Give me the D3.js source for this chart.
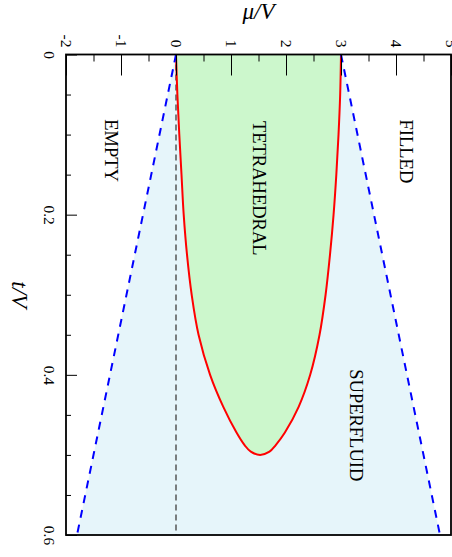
<!DOCTYPE html>
<html>
<head>
<meta charset="utf-8">
<script src="https://cdn.jsdelivr.net/npm/d3@7"></script>
<style>
  body { margin: 0; background: #fff; }
  svg { display: block; font-family: "Liberation Serif", "DejaVu Serif", serif; }
</style>
</head>
<body>
<div id="chart"></div>
<script>
'use strict'

// lobe boundary (tetrahedral phase)
var lobeT     = [0, 0.05, 0.1, 0.15, 0.2, 0.25, 0.3, 0.35, 0.4, 0.44, 0.472, 0.488, 0.496];
var lobeLower = [0, 0.025, 0.06, 0.1, 0.14, 0.2, 0.285, 0.41, 0.62, 0.86, 1.1, 1.25, 1.36];
var lobeUpper = [3, 2.985, 2.955, 2.915, 2.865, 2.8, 2.72, 2.61, 2.44, 2.23, 1.98, 1.81, 1.7];
var lobeTip = [0.5, 1.53];

// superfluid edges (dashed blue)
var edgeT = [0, 0.6];
var edgeLower = [0, -1.8];
var edgeUpper = [3, 4.8];

var muTicks = [-2, -1, 0, 1, 2, 3, 4, 5];
var muMinor = [-1.5, -0.5, 0.5, 1.5, 2.5, 3.5, 4.5];
var tTicks = [0, 0.2, 0.4, 0.6];
var tMinor = [0.05, 0.1, 0.15, 0.25, 0.3, 0.35, 0.45, 0.5, 0.55];

var regionNames = ["EMPTY", "TETRAHEDRAL", "FILLED", "SUPERFLUID"];
var regionMu = [-1.19, 1.5, 4.19, 3.27];
var regionT = [0.12, 0.167, 0.121, 0.463];

var W = 452, H = 557;
var fLeft = 66, fRight = 451, fTop = 54.5, fBottom = 535;

var svg = d3.select("#chart").append("svg").attr("width", W).attr("height", H);

var x = d3.scaleLinear().domain([-2, 5]).range([fLeft, fRight]);
var y = d3.scaleLinear().domain([0, 0.6]).range([fTop, fBottom]);

// light blue superfluid band
var band = [];
for (var i = 0; i < edgeT.length; i++) band.push([edgeT[i], edgeLower[i]]);
for (var i = edgeT.length - 1; i >= 0; i--) band.push([edgeT[i], edgeUpper[i]]);
var poly = d3.line().x(function(d) { return x(d[1]); }).y(function(d) { return y(d[0]); });
svg.append("path").attr("d", poly(band) + "Z").attr("fill", "#e6f5fa");

// lobe: down the lower side, round the tip, back up the upper side
var lobe = [];
for (var i = 0; i < lobeT.length; i++) lobe.push([lobeT[i], lobeLower[i]]);
lobe.push(lobeTip);
for (var i = lobeT.length - 1; i >= 0; i--) lobe.push([lobeT[i], lobeUpper[i]]);
var curve = d3.line().x(function(d) { return x(d[1]); }).y(function(d) { return y(d[0]); })
    .curve(d3.curveCatmullRom.alpha(0.5));
svg.append("path").attr("d", curve(lobe)).attr("fill", "#ccf7cc").attr("stroke", "none");

// mu = 0 gray dashed
svg.append("line")
    .attr("x1", x(0)).attr("x2", x(0)).attr("y1", y(0)).attr("y2", y(0.6))
    .attr("stroke", "#555").attr("stroke-width", 1.5).attr("stroke-dasharray", "6,4");

svg.append("path").attr("d", curve(lobe)).attr("fill", "none")
    .attr("stroke", "#ff0000").attr("stroke-width", 2);

// dashed blue edges
[edgeLower, edgeUpper].forEach(function(e) {
    var pts = edgeT.map(function(t, k) { return [t, e[k]]; });
    svg.append("path").attr("d", poly(pts)).attr("fill", "none")
        .attr("stroke", "#0000ff").attr("stroke-width", 2).attr("stroke-dasharray", "8,7");
});

// axes
var topAxis = svg.append("g").attr("transform", "translate(0," + fTop + ")")
    .call(d3.axisTop(x).tickValues(muTicks).tickSizeInner(-21).tickSizeOuter(0)
        .tickFormat(function(d) { return String(d); }));
svg.append("g").attr("transform", "translate(0," + fTop + ")")
    .call(d3.axisTop(x).tickValues(muMinor).tickSizeInner(-7).tickSizeOuter(0).tickFormat(""))
    .select(".domain").remove();
topAxis.select(".domain").remove();
topAxis.selectAll("text")
    .attr("y", 0).attr("dy", null)
    .attr("transform", "translate(0,-7) rotate(90)")
    .attr("text-anchor", "end").attr("dominant-baseline", "central")
    .attr("font-size", 15.5).attr("font-family", "Liberation Serif").attr("fill", "#000");

var leftAxis = svg.append("g").attr("transform", "translate(" + fLeft + ",0)")
    .call(d3.axisLeft(y).tickValues(tTicks).tickSizeInner(-11).tickSizeOuter(0)
        .tickFormat(function(d) { return String(d); }));
svg.append("g").attr("transform", "translate(" + fLeft + ",0)")
    .call(d3.axisLeft(y).tickValues(tMinor).tickSizeInner(-5).tickSizeOuter(0).tickFormat(""))
    .select(".domain").remove();
leftAxis.select(".domain").remove();
leftAxis.selectAll("text")
    .attr("x", 0).attr("dy", null)
    .attr("transform", "translate(-17,0) rotate(90)")
    .attr("text-anchor", "middle").attr("dominant-baseline", "central")
    .attr("font-size", 15.5).attr("font-family", "Liberation Serif").attr("fill", "#000");

svg.selectAll(".tick line").attr("stroke", "#000").attr("stroke-width", 1);

// frame
svg.append("rect").attr("x", fLeft).attr("y", fTop)
    .attr("width", fRight - fLeft).attr("height", fBottom - fTop)
    .attr("fill", "none").attr("stroke", "#000").attr("stroke-width", 1.8);

// axis titles
svg.append("text").attr("x", (fLeft + fRight) / 2).attr("y", 19)
    .attr("text-anchor", "middle").attr("font-style", "italic").attr("font-size", 23)
    .text("μ/V");
svg.append("text").attr("transform", "translate(19.5," + ((fTop + fBottom) / 2) + ") rotate(90)")
    .attr("text-anchor", "middle").attr("dominant-baseline", "central")
    .attr("font-style", "italic").attr("font-size", 23)
    .text("t/V");

// region labels
regionNames.forEach(function(name, k) {
    svg.append("text")
        .attr("transform", "translate(" + x(regionMu[k]) + "," + y(regionT[k]) + ") rotate(90)")
        .attr("text-anchor", "middle").attr("dominant-baseline", "central")
        .attr("font-size", 18.5).attr("fill", "#000")
        .text(name);
});
</script>
</body>
</html>
